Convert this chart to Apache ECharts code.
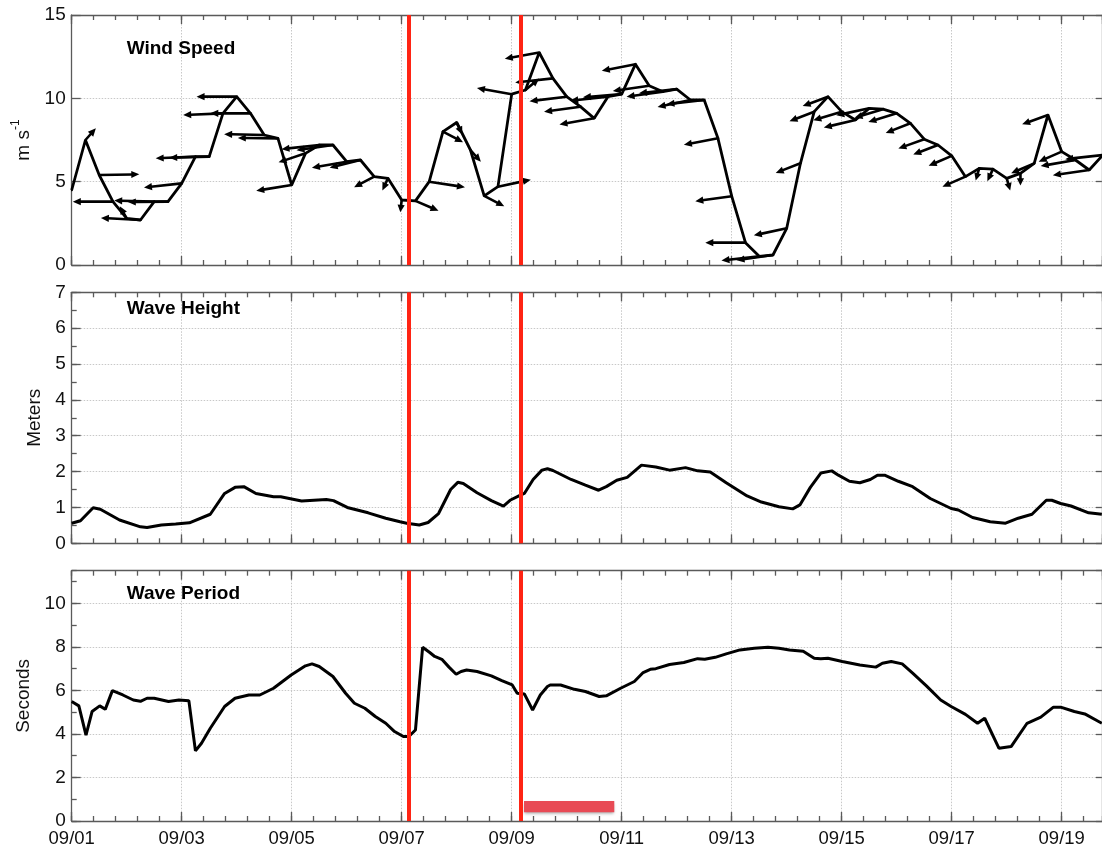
<!DOCTYPE html>
<html><head><meta charset="utf-8">
<script src="https://cdn.jsdelivr.net/npm/echarts@6/dist/echarts.min.js"></script>
<style>html,body{margin:0;padding:0;background:#fff}#c{width:1102px;height:852px}</style>
</head><body><div id="c"></div>
<script>
// ---------- DATA (days since 09/01 00:00) ----------
const xTickLabels = ['09/01','09/03','09/05','09/07','09/09','09/11','09/13','09/15','09/17','09/19'];
const panelTitles = ['Wind Speed', 'Wave Height', 'Wave Period'];

const windTime = [0,0.25,0.5,0.75,1,1.25,1.5,1.75,2,2.25,2.5,2.75,3,3.25,3.5,3.75,4,4.25,4.5,4.75,5,5.25,5.5,5.75,6,6.25,6.5,6.75,7,7.25,7.5,7.75,8,8.25,8.5,8.75,9,9.25,9.5,9.75,10,10.25,10.5,10.75,11,11.25,11.5,11.75,12,12.25,12.5,12.75,13,13.25,13.5,13.75,14,14.25,14.5,14.75,15,15.25,15.5,15.75,16,16.25,16.5,16.75,17,17.25,17.5,17.75,18,18.25,18.5,18.75];
const windSpeed = [4.5,7.5,5.4,3.8,2.8,2.7,3.8,3.8,4.9,6.5,6.5,9.1,10.1,9.1,7.8,7.6,4.8,6.7,7.2,7.2,6.2,6.3,5.3,5.2,3.9,3.85,5.0,8.0,8.55,6.9,4.15,4.7,10.25,10.5,12.75,11.2,10.1,9.5,8.8,10.1,10.25,12.05,10.75,10.4,10.55,9.9,9.9,7.6,4.13,1.34,0.52,0.6,2.2,6.1,9.2,10.1,9.2,8.7,9.4,9.35,9.1,8.5,7.55,7.2,6.55,5.3,5.8,5.75,5.2,5.5,6.1,9.0,6.8,6.3,5.7,6.6];
// direction the wind arrow points to, degrees (0 = east, 90 = north)
const windDir = [180,75,3,180,100,170,175,182,200,188,185,188,180,180,176,178,208,228,200,205,210,220,240,262,268,305,333,300,278,285,300,35,150,70,211,200,202,205,210,200,195,213,205,205,200,215,200,212,205,180,200,205,215,232,232,231,225,218,215,225,225,232,230,232,235,235,265,262,275,270,235,230,235,210,205,200];

const waveHeightTime = [0,0.16,0.39,0.52,0.87,1.25,1.37,1.63,1.89,2.14,2.52,2.78,2.97,3.13,3.35,3.67,3.8,4.18,4.63,4.76,5.01,5.39,5.71,5.97,6.09,6.32,6.48,6.67,6.89,7.02,7.12,7.37,7.63,7.85,7.97,8.14,8.23,8.39,8.55,8.65,8.75,9.08,9.34,9.58,9.72,9.91,10.1,10.36,10.62,10.87,11.16,11.38,11.61,11.9,12.28,12.54,12.86,13.11,13.24,13.43,13.62,13.82,13.94,14.14,14.33,14.52,14.65,14.78,15.03,15.29,15.61,15.99,16.12,16.38,16.7,16.98,17.21,17.46,17.72,17.82,17.98,18.17,18.49,18.73];
const waveHeight = [0.56,0.63,0.99,0.95,0.65,0.46,0.44,0.51,0.54,0.57,0.81,1.39,1.56,1.58,1.39,1.3,1.3,1.18,1.22,1.19,1.0,0.85,0.7,0.6,0.56,0.51,0.58,0.83,1.5,1.7,1.67,1.41,1.19,1.04,1.2,1.33,1.39,1.78,2.04,2.08,2.03,1.78,1.62,1.48,1.58,1.76,1.84,2.18,2.13,2.04,2.11,2.02,1.99,1.69,1.32,1.15,1.02,0.96,1.07,1.56,1.96,2.02,1.9,1.73,1.69,1.78,1.9,1.9,1.73,1.58,1.25,0.97,0.93,0.72,0.6,0.56,0.7,0.81,1.2,1.2,1.11,1.04,0.85,0.81];

const wavePeriodTime = [0,0.13,0.26,0.37,0.51,0.61,0.74,0.93,1.12,1.25,1.37,1.5,1.76,1.95,2.13,2.25,2.36,2.52,2.78,2.97,3.22,3.42,3.67,3.99,4.25,4.37,4.5,4.75,4.98,5.14,5.33,5.52,5.71,5.87,6.03,6.13,6.25,6.38,6.51,6.6,6.73,6.86,6.99,7.08,7.18,7.37,7.63,7.82,8.01,8.1,8.23,8.38,8.52,8.65,8.7,8.89,9.14,9.34,9.59,9.72,9.98,10.23,10.39,10.52,10.62,10.87,11.13,11.38,11.51,11.7,11.9,12.15,12.41,12.66,12.86,13.05,13.3,13.5,13.62,13.75,14.01,14.33,14.62,14.74,14.9,15.1,15.29,15.54,15.8,15.99,16.25,16.47,16.6,16.86,17.08,17.37,17.62,17.85,17.98,18.23,18.42,18.73];
const wavePeriod = [5.49,5.29,3.95,5.03,5.29,5.13,5.99,5.79,5.56,5.5,5.64,5.64,5.49,5.56,5.53,3.22,3.57,4.26,5.26,5.64,5.79,5.79,6.1,6.71,7.13,7.22,7.1,6.64,5.87,5.41,5.18,4.8,4.49,4.11,3.88,3.88,4.18,7.98,7.74,7.56,7.43,7.07,6.74,6.87,6.94,6.87,6.67,6.45,6.25,5.87,5.84,5.1,5.79,6.18,6.25,6.25,6.05,5.95,5.72,5.75,6.1,6.41,6.82,6.97,7.0,7.19,7.28,7.46,7.43,7.52,7.68,7.86,7.94,7.98,7.94,7.86,7.8,7.48,7.45,7.48,7.33,7.17,7.07,7.25,7.33,7.22,6.79,6.21,5.56,5.26,4.9,4.49,4.72,3.34,3.42,4.49,4.77,5.23,5.23,5.03,4.92,4.49];

const redLineDays = [6.115, 8.164];           // vertical event markers
const redBarDays = [8.224, 9.865];             // highlighted interval (x)
const redBarSeconds = [0.40, 0.915];           // its vertical extent in the bottom panel

// ---------- LAYOUT / STYLE ----------
const FONT = '"Liberation Sans", Arial, Helvetica, sans-serif';
const X_MAX = 18.73;
const LEFT = 71.7, WIDTH = 1030.15;
const GRIDS = [{top:15, height:250}, {top:292.3, height:251}, {top:570.7, height:250.3}];
const Y_CFG = [
  {min:0, max:15, interval:5, minor:null, name:'{a|m s}{b|-1}', gap:33},
  {min:0, max:7, interval:1, minor:0.5, name:'Meters', gap:26},
  {min:0, max:11.5, interval:2, minor:1, name:'Seconds', gap:37}
];
const AX = '#5a5a5a';
const ARROW_LEN = 0.73;

function xLabel(v){
  const k = v / 2;
  if (Math.abs(k - Math.round(k)) > 1e-6) return '';
  return xTickLabels[Math.round(k)] || '';
}

const xAxis = [], yAxis = [];
GRIDS.forEach((g, gi) => {
  const base = {type:'value', gridIndex:gi, min:0, max:X_MAX, splitLine:{show:false}, axisLabel:{show:false},
                axisLine:{show:false, onZero:false}};
  xAxis.push(Object.assign({}, base, {position:'bottom', interval:2,
    axisLine:{show:true, onZero:false, lineStyle:{color:AX, width:1.3}},
    axisTick:{show:true, inside:true, length:9, lineStyle:{color:AX, width:1.3}},
    axisLabel:{show: gi === 2, margin:8, fontSize:18.5, color:'#111', fontFamily:FONT, showMaxLabel:false, formatter:xLabel},
    splitLine:{show:true, lineStyle:{color:'#c8c8c8', width:1, type:[1.5,1.5]}}}));
  xAxis.push(Object.assign({}, base, {position:'bottom', interval:0.4,
    axisTick:{show:true, inside:true, length:5, lineStyle:{color:AX, width:1.3}}}));
  xAxis.push(Object.assign({}, base, {position:'top', interval:2,
    axisLine:{show:true, onZero:false, lineStyle:{color:AX, width:1.3}},
    axisTick:{show:true, inside:true, length:9, lineStyle:{color:AX, width:1.3}}}));
  xAxis.push(Object.assign({}, base, {position:'top', interval:0.4,
    axisTick:{show:true, inside:true, length:5, lineStyle:{color:AX, width:1.3}}}));

  const c = Y_CFG[gi];
  yAxis.push({type:'value', gridIndex:gi, position:'left', min:c.min, max:c.max, interval:c.interval,
    axisLine:{show:true, onZero:false, lineStyle:{color:AX, width:1.3}},
    axisTick:{show:true, inside:true, length:9, lineStyle:{color:AX, width:1.3}},
    axisLabel:{show:true, margin:6, fontSize:19, color:'#111', fontFamily:FONT, showMaxLabel: gi !== 2},
    splitLine:{show:true, lineStyle:{color:'#c8c8c8', width:1, type:[1.5,1.5]}},
    name:c.name, nameLocation:'middle', nameRotate:90, nameGap:c.gap,
    nameTextStyle:{fontSize:19, color:'#111', fontFamily:FONT,
      rich:{a:{fontSize:19, fontFamily:FONT, color:'#111', lineHeight:24, verticalAlign:'bottom'},
            b:{fontSize:12, fontFamily:FONT, color:'#111', lineHeight:24, verticalAlign:'top', padding:[0,0,8,0]}}}});
  yAxis.push({type:'value', gridIndex:gi, position:'left', min:c.min, max:c.max, interval:c.minor || c.interval,
    show: !!c.minor, axisLine:{show:false, onZero:false}, axisLabel:{show:false}, splitLine:{show:false},
    axisTick:{show:true, inside:true, length:5, lineStyle:{color:AX, width:1.3}}});
  yAxis.push({type:'value', gridIndex:gi, position:'right', min:c.min, max:c.max, interval:c.interval,
    axisLine:{show:true, onZero:false, lineStyle:{color:AX, width:1.3}},
    axisTick:{show:true, inside:true, length:6, lineStyle:{color:AX, width:1.3}},
    axisLabel:{show:false}, splitLine:{show:false}});
});

function redMarks(){
  return {silent:true, symbol:['none','none'], label:{show:false}, animation:false,
    lineStyle:{color:'#ff2414', width:4, type:'solid', opacity:1},
    emphasis:{disabled:true}, data: redLineDays.map(d => ({xAxis:d}))};
}

function renderArrow(params, api){
  const t = api.value(0), s = api.value(1), a = api.value(2) * Math.PI / 180;
  const p0 = api.coord([t, s]);
  const p1 = api.coord([t + ARROW_LEN * Math.cos(a), s + ARROW_LEN * Math.sin(a)]);
  const dx = p1[0] - p0[0], dy = p1[1] - p0[1];
  const len = Math.hypot(dx, dy) || 1;
  const ux = dx / len, uy = dy / len;
  const hl = Math.min(8, len * 0.6), hw = 3.6;
  const bx = p1[0] - ux * hl, by = p1[1] - uy * hl;
  return {type:'group', children:[
    {type:'line', shape:{x1:p0[0], y1:p0[1], x2:bx + ux, y2:by + uy}, style:{stroke:'#000', lineWidth:2.6, lineCap:'round'}},
    {type:'polygon', shape:{points:[[p1[0], p1[1]], [bx - uy*hw, by + ux*hw], [bx + uy*hw, by - ux*hw]]}, style:{fill:'#000'}}
  ]};
}

const lineBase = {type:'line', symbol:'none', showSymbol:false, clip:true, animation:false, silent:true};

const option = {
  backgroundColor:'#fff',
  animation:false,
  title: panelTitles.map((t, i) => ({text:t, left:126.7, top:[39, 299, 584][i], padding:0,
    textStyle:{fontSize:19, fontWeight:'bold', color:'#000', fontFamily:FONT}})),
  grid: GRIDS.map(g => ({left:LEFT, top:g.top, width:WIDTH, height:g.height, containLabel:false})),
  xAxis, yAxis,
  series: [
    Object.assign({}, lineBase, {xAxisIndex:0, yAxisIndex:0, z:3,
      data: windTime.map((t, i) => [t, windSpeed[i]]),
      lineStyle:{color:'#000', width:2.8}, markLine: redMarks()}),
    {type:'custom', xAxisIndex:0, yAxisIndex:0, z:4, clip:true, silent:true, animation:false,
      encode:{x:0, y:1},
      data: windTime.map((t, i) => [t, windSpeed[i], windDir[i]]),
      renderItem: renderArrow},
    Object.assign({}, lineBase, {xAxisIndex:4, yAxisIndex:3, z:3,
      data: waveHeightTime.map((t, i) => [t, waveHeight[i]]),
      lineStyle:{color:'#000', width:3}, markLine: redMarks()}),
    Object.assign({}, lineBase, {xAxisIndex:8, yAxisIndex:6, z:3,
      data: wavePeriodTime.map((t, i) => [t, wavePeriod[i]]),
      lineStyle:{color:'#000', width:3}, markLine: redMarks(),
      markArea:{silent:true, animation:false,
        itemStyle:{color:'#e84a55', shadowBlur:3, shadowColor:'rgba(0,0,0,0.35)', shadowOffsetY:1.5},
        data:[[{xAxis:redBarDays[0], yAxis:redBarSeconds[0]}, {xAxis:redBarDays[1], yAxis:redBarSeconds[1]}]]}})
  ]
};

const chart = echarts.init(document.getElementById('c'), null, {renderer:'canvas'});
chart.setOption(option);
</script>
</body></html>
